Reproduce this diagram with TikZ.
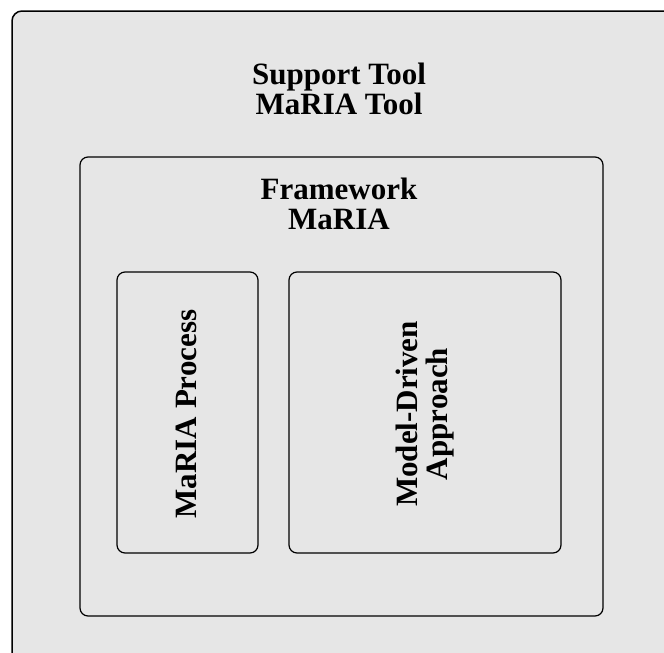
\documentclass[tikz,border=0pt]{standalone}
\usepackage{fontspec}
\setmainfont{Liberation Serif}
\begin{document}
\begin{tikzpicture}[x=1pt,y=-1pt,
  box/.style={draw=black,line width=1.2pt,rounded corners=8pt,fill=boxgray},
  lbl/.style={align=center,font=\fontsize{31}{30}\selectfont\bfseries,inner sep=0pt}]
\definecolor{boxgray}{HTML}{E6E6E6}
\useasboundingbox (0,0) rectangle (664,653);
\clip (0,0) rectangle (664,653);
\fill[white] (0,0) rectangle (664,653);
\draw[box,line width=1.5pt,rounded corners=10pt] (12,11) rectangle (700,700);
\node[lbl] (tool) at (339,89) {Support Tool\\MaRIA Tool};
\draw[box] (80,157) rectangle (603,616);
\node[lbl] (fw) at (339,204) {Framework\\MaRIA};
\draw[box] (117,272) rectangle (258,553);
\node[lbl,rotate=90] (proc) at (186,414) {MaRIA Process};
\draw[box] (289,272) rectangle (561,553);
\node[lbl,rotate=90] (mda) at (425,414) {Model-Driven\\Approach};
\end{tikzpicture}
\end{document}
